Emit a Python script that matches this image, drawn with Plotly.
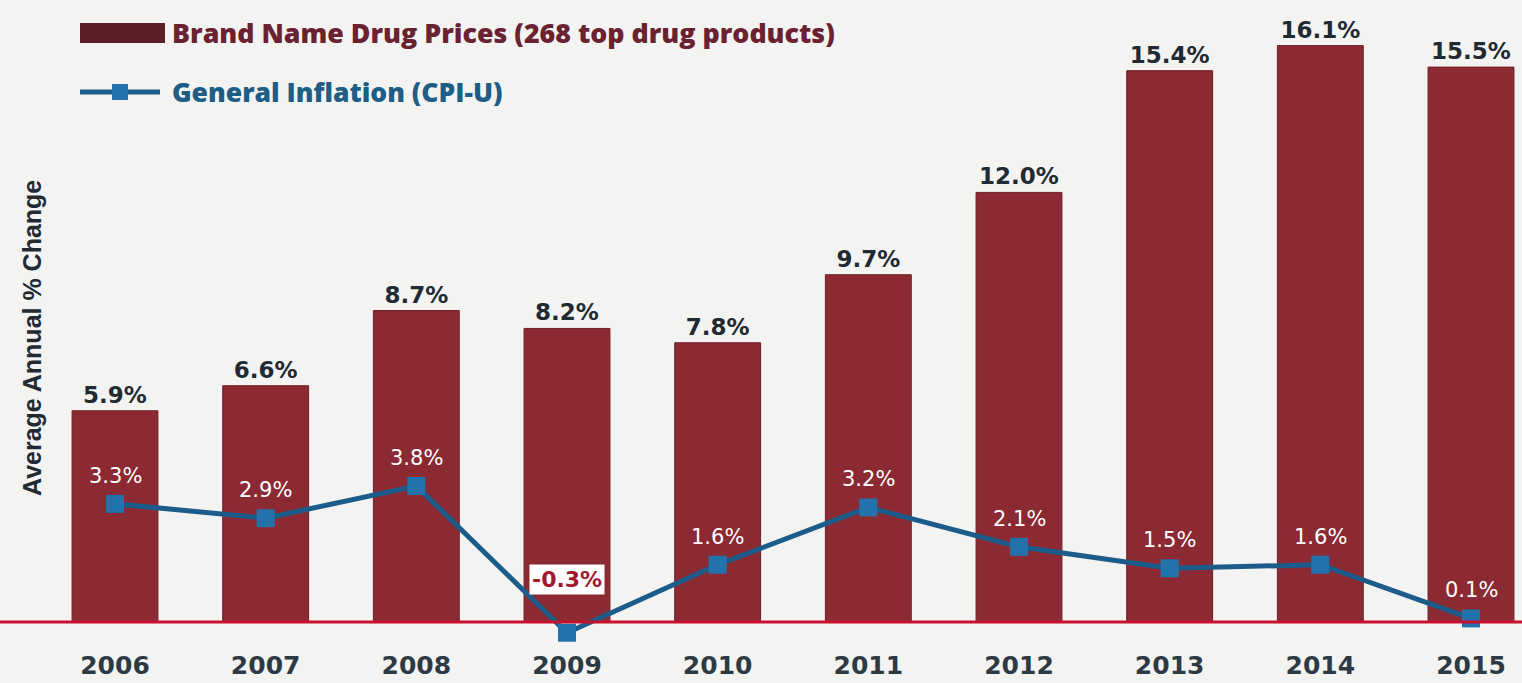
import plotly.graph_objects as go

# Annual % change: brand-name drug prices vs general inflation
years = ["2006", "2007", "2008", "2009", "2010", "2011", "2012", "2013", "2014", "2015"]
brand_prices = [5.9, 6.6, 8.7, 8.2, 7.8, 9.7, 12.0, 15.4, 16.1, 15.5]
cpi_u = [3.3, 2.9, 3.8, -0.3, 1.6, 3.2, 2.1, 1.5, 1.6, 0.1]

W, H = 1522, 683
M_L, M_R, M_T, M_B = 0, 0, 0, 43
PLOT_W = W - M_L - M_R
PLOT_H = H - M_T - M_B

BAR_COLOR = "#8b2a33"
LINE_COLOR = "#1c5c8a"
MARKER_COLOR = "#2472ac"
TEXT_DARK = "#1f2a33"
BG = "#f3f3f1"


def px_x(p):
    return (p - M_L) / PLOT_W


def px_y(p):
    return (H - M_B - p) / PLOT_H


fig = go.Figure()

fig.add_trace(go.Bar(
    x=list(range(len(years))),
    y=brand_prices,
    width=0.57,
    marker=dict(color=BAR_COLOR, line=dict(color="#6e1f27", width=1)),
    text=[f"{v:.1f}%" for v in brand_prices],
    textposition="outside",
    textfont=dict(family="DejaVu Sans", size=23, color=TEXT_DARK, weight="bold"),
    cliponaxis=False,
    showlegend=False,
))

fig.add_trace(go.Scatter(
    x=list(range(len(years))),
    y=cpi_u,
    mode="lines+markers",
    line=dict(color=LINE_COLOR, width=5),
    marker=dict(symbol="square", size=18, color=MARKER_COLOR),
    cliponaxis=False,
    showlegend=False,
))

annotations = []
for i, v in enumerate(cpi_u):
    label = f"{v:.1f}%"
    if v < 0:
        annotations.append(dict(
            x=i, y=v, xref="x", yref="y", text=label, showarrow=False,
            yshift=53, bgcolor="white", borderpad=2,
            font=dict(family="DejaVu Sans", size=22, color="#a3172d", weight="bold"),
        ))
    else:
        annotations.append(dict(
            x=i, y=v, xref="x", yref="y", text=label, showarrow=False,
            yshift=28,
            font=dict(family="DejaVu Sans", size=21, color="white"),
        ))

# y-axis title
annotations.append(dict(
    x=px_x(32), y=px_y(338), xref="paper", yref="paper",
    xanchor="center", yanchor="middle",
    text="<b>Average Annual % Change</b>", textangle=-90, showarrow=False,
    font=dict(family="Liberation Sans", size=25, color=TEXT_DARK),
))

# legend entries
annotations.append(dict(
    x=px_x(170), y=px_y(33), xref="paper", yref="paper",
    xanchor="left", yanchor="middle",
    text="Brand Name Drug Prices (268 top drug products)", showarrow=False,
    font=dict(family="Open Sans", size=26.8, color="#6a2230", weight=800),
))
annotations.append(dict(
    x=px_x(170), y=px_y(92), xref="paper", yref="paper",
    xanchor="left", yanchor="middle",
    text="General Inflation (CPI-U)", showarrow=False,
    font=dict(family="Open Sans", size=26.5, color="#1d5d86", weight=800),
))

shapes = [
    # zero baseline
    dict(type="line", xref="paper", yref="y", x0=0, x1=1, y0=0, y1=0,
         line=dict(color="#c8102e", width=3), layer="above"),
    # legend swatch for bars
    dict(type="rect", xref="paper", yref="paper",
         x0=px_x(80), x1=px_x(165), y0=px_y(43), y1=px_y(23),
         fillcolor="#5c1f27", line=dict(width=0)),
    # legend swatch for line
    dict(type="line", xref="paper", yref="paper",
         x0=px_x(80), x1=px_x(160), y0=px_y(92), y1=px_y(92),
         line=dict(color=LINE_COLOR, width=5)),
    dict(type="rect", xref="paper", yref="paper",
         x0=px_x(112), x1=px_x(128), y0=px_y(100), y1=px_y(84),
         fillcolor=MARKER_COLOR, line=dict(width=0)),
]

unit_px = 150.67
x0 = -(115 - M_L) / unit_px
x1 = (len(years) - 1) + (W - M_R - 1471) / unit_px
y_per_px = 1 / 35.8
y_top = (622 - M_T) * y_per_px
y_bot = -(H - M_B - 622) * y_per_px

fig.update_layout(
    width=W, height=H,
    margin=dict(l=M_L, r=M_R, t=M_T, b=M_B),
    paper_bgcolor=BG, plot_bgcolor=BG,
    xaxis=dict(
        range=[x0, x1],
        tickmode="array",
        tickvals=list(range(len(years))),
        ticktext=years,
        tickfont=dict(family="DejaVu Sans", size=25, color="#2d3a44", weight="bold"),
        ticklabelstandoff=8,
        showgrid=False, zeroline=False, showline=False, ticks="",
    ),
    yaxis=dict(
        range=[y_bot, y_top],
        showgrid=False, zeroline=False, showline=False,
        showticklabels=False, ticks="",
    ),
    annotations=annotations,
    shapes=shapes,
    bargap=0.43,
)

fig.write_html("out.html")
